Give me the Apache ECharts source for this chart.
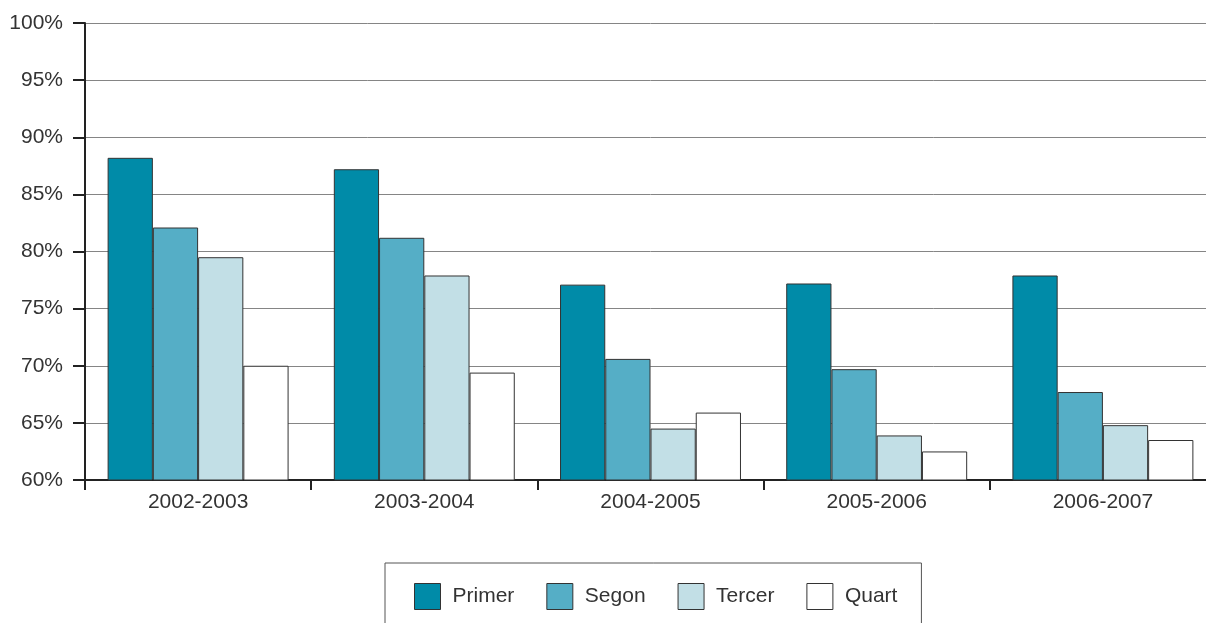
<!DOCTYPE html>
<html>
<head>
<meta charset="utf-8">
<script src="https://cdn.jsdelivr.net/npm/echarts@6/dist/echarts.min.js"></script>
<style>html,body{margin:0;padding:0;background:#fff;overflow:hidden;width:1206px;height:623px;}#c{width:1230px;height:623px;}</style>
</head>
<body>
<div id="c"></div>
<script>
var categories = ['2002-2003', '2003-2004', '2004-2005', '2005-2006', '2006-2007'];
var seriesNames = ['Primer', 'Segon', 'Tercer', 'Quart'];
var primer = [88.2, 87.2, 77.1, 77.2, 77.9];
var segon = [82.1, 81.2, 70.6, 69.7, 67.7];
var tercer = [79.5, 77.9, 64.5, 63.9, 64.8];
var quart = [70.0, 69.4, 65.9, 62.5, 63.5];
var colors = ['#008ba8', '#55aec6', '#c2dfe6', '#ffffff'];

var dataSets = [primer, segon, tercer, quart];
var font = 'Liberation Sans, Arial, sans-serif';
var chart = echarts.init(document.getElementById('c'));
chart.setOption({
  animation: false,
  grid: { left: 85, top: 23, bottom: 143, right: 14, containLabel: false },
  legend: {
    data: seriesNames,
    left: 385,
    top: 563,
    padding: [20, 24, 40, 29],
    borderColor: '#555',
    borderWidth: 1,
    itemWidth: 26,
    itemHeight: 26,
    itemGap: 32,
    icon: 'rect',
    textStyle: { fontFamily: font, fontSize: 21, color: '#333', padding: [0, 0, 0, 7] },
    itemStyle: { borderColor: '#333', borderWidth: 1 }
  },
  xAxis: {
    type: 'category',
    data: categories,
    axisLine: { lineStyle: { color: '#222', width: 2 } },
    axisTick: { show: true, length: 10, lineStyle: { color: '#222', width: 2 } },
    axisLabel: { fontFamily: font, fontSize: 21, color: '#333', margin: 12 }
  },
  yAxis: {
    type: 'value',
    min: 60, max: 100, interval: 5,
    axisLine: { show: true, lineStyle: { color: '#222', width: 2 } },
    axisTick: { show: true, length: 12, lineStyle: { color: '#222', width: 2 } },
    axisLabel: { fontFamily: font, fontSize: 21, color: '#333', margin: 22, formatter: '{value}%' },
    splitLine: { show: true, lineStyle: { color: '#858585', width: 1 } }
  },
  series: seriesNames.map(function (n, i) {
    return {
      name: n,
      type: 'bar',
      data: dataSets[i],
      barGap: '0%',
      barCategoryGap: '20%',
      itemStyle: { color: colors[i], borderColor: '#333', borderWidth: 1 }
    };
  })
});
</script>
</body>
</html>
